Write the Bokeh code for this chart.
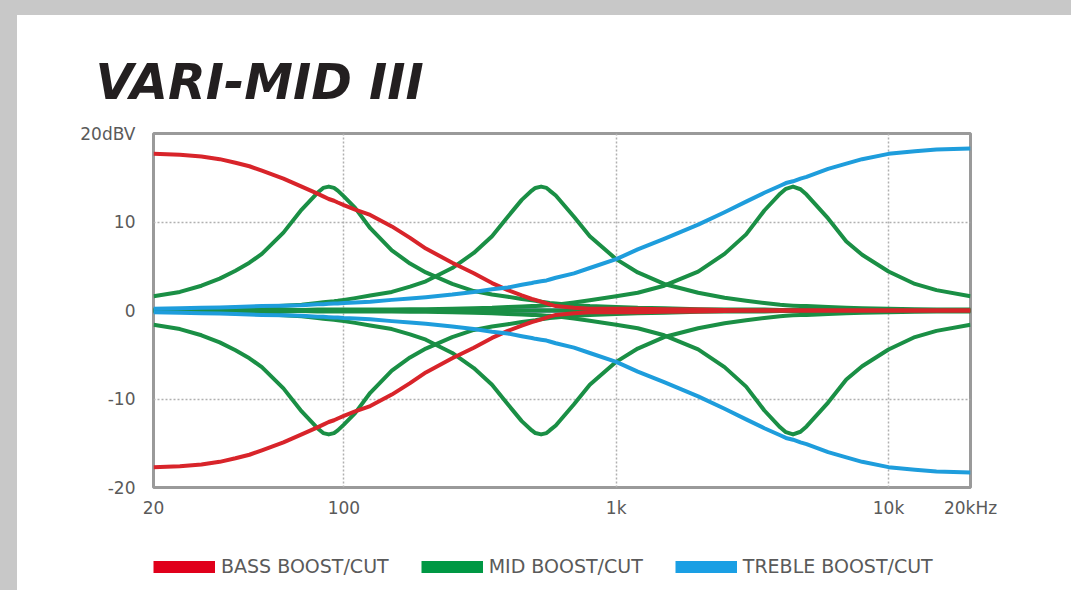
from bokeh.plotting import figure
from bokeh.layouts import column
from bokeh.models import FixedTicker, Legend, LegendItem, ColumnDataSource, Range1d
from bokeh.embed import file_html
from bokeh.resources import INLINE

# ---------------- data ----------------
FREQ = [20, 25, 30, 35, 40, 45, 50, 60, 70, 80, 84, 88, 92, 95, 100, 110, 125, 150, 175, 200,
        250, 300, 350, 400, 450, 490, 505, 530, 555, 570, 600, 700, 800, 1000, 1200, 1500, 2000,
        2500, 3000, 3500, 4000, 4200, 4460, 4750, 5000, 6000, 7000, 8000, 10000, 12500,
        15000, 20000]

BASS_BOOST = [17.7, 17.6, 17.4, 17.1, 16.7, 16.3, 15.8, 14.9, 14.0, 13.2, 12.9, 12.6, 12.4,
              12.2, 11.9, 11.4, 10.8, 9.5, 8.2, 7.0, 5.4, 4.2, 3.1, 2.3, 1.7, 1.3, 1.2, 1.0,
              0.8, 0.7, 0.5, 0.3, 0.2, 0.2, 0.2, 0.15, 0.1, 0.05, 0, 0, 0, 0, 0, 0, 0, 0, 0, 0,
              0, 0, 0, 0]
BASS_CUT = [-17.7, -17.6, -17.4, -17.1, -16.7, -16.3, -15.8, -14.9, -14.0, -13.2, -12.9, -12.6,
            -12.4, -12.2, -11.9, -11.4, -10.8, -9.5, -8.2, -7.0, -5.4, -4.2, -3.1, -2.3, -1.7,
            -1.3, -1.2, -1.0, -0.8, -0.7, -0.5, -0.3, -0.2, -0.2, -0.2, -0.15, -0.1, -0.05, 0,
            0, 0, 0, 0, 0, 0, 0, 0, 0, 0, 0, 0, 0]

MID_LOW_BOOST = [1.6, 2.1, 2.8, 3.6, 4.5, 5.4, 6.4, 8.8, 11.4, 13.3, 13.85, 14.0, 13.85, 13.55,
                 12.9, 11.6, 9.3, 6.8, 5.3, 4.3, 3.0, 2.2, 1.8, 1.55, 1.3, 1.15, 1.1, 1.0, 0.9,
                 0.85, 0.8, 0.6, 0.5, 0.4, 0.3, 0.25, 0.15, 0.1, 0.1, 0.1, 0.05, 0.05, 0.05,
                 0.05, 0.05, 0, 0, 0, 0, 0, 0, 0]
MID_LOW_CUT = [-1.6, -2.1, -2.8, -3.6, -4.5, -5.4, -6.4, -8.8, -11.4, -13.3, -13.85, -14.0,
               -13.85, -13.55, -12.9, -11.6, -9.3, -6.8, -5.3, -4.3, -3.0, -2.2, -1.8, -1.55,
               -1.3, -1.15, -1.1, -1.0, -0.9, -0.85, -0.8, -0.6, -0.5, -0.4, -0.3, -0.25,
               -0.15, -0.1, -0.1, -0.1, -0.05, -0.05, -0.05, -0.05, -0.05, 0, 0, 0, 0, 0, 0, 0]

MID_MID_BOOST = [0.1, 0.15, 0.2, 0.25, 0.3, 0.35, 0.4, 0.55, 0.65, 0.85, 0.92, 1.0, 1.05, 1.1,
                 1.2, 1.4, 1.7, 2.1, 2.7, 3.3, 4.8, 6.5, 8.4, 10.6, 12.5, 13.55, 13.85, 14.0,
                 13.85, 13.55, 13.0, 10.6, 8.4, 5.8, 4.3, 3.0, 2.0, 1.45, 1.1, 0.85, 0.65, 0.6,
                 0.55, 0.5, 0.5, 0.4, 0.3, 0.25, 0.2, 0.15, 0.1, 0.1]
MID_MID_CUT = [-0.1, -0.15, -0.2, -0.25, -0.3, -0.35, -0.4, -0.55, -0.65, -0.85, -0.92, -1.0,
               -1.05, -1.1, -1.2, -1.4, -1.7, -2.1, -2.7, -3.3, -4.8, -6.5, -8.4, -10.6, -12.5,
               -13.55, -13.85, -14.0, -13.85, -13.55, -13.0, -10.6, -8.4, -5.8, -4.3, -3.0,
               -2.0, -1.45, -1.1, -0.85, -0.65, -0.6, -0.55, -0.5, -0.5, -0.4, -0.3, -0.25,
               -0.2, -0.15, -0.1, -0.1]

MID_HIGH_BOOST = [0, 0, 0.05, 0.05, 0.05, 0.05, 0.05, 0.05, 0.05, 0.1, 0.1, 0.1, 0.1, 0.1, 0.1,
                  0.1, 0.1, 0.1, 0.15, 0.15, 0.2, 0.25, 0.3, 0.4, 0.45, 0.5, 0.5, 0.55, 0.6,
                  0.6, 0.65, 0.9, 1.15, 1.6, 2.0, 2.8, 4.4, 6.4, 8.6, 11.3, 13.2, 13.75, 14.0,
                  13.7, 13.1, 10.4, 7.8, 6.3, 4.4, 3.0, 2.3, 1.6]
MID_HIGH_CUT = [0, 0, -0.05, -0.05, -0.05, -0.05, -0.05, -0.05, -0.05, -0.1, -0.1, -0.1, -0.1,
                -0.1, -0.1, -0.1, -0.1, -0.1, -0.15, -0.15, -0.2, -0.25, -0.3, -0.4, -0.45,
                -0.5, -0.5, -0.55, -0.6, -0.6, -0.65, -0.9, -1.15, -1.6, -2.0, -2.8, -4.4,
                -6.4, -8.6, -11.3, -13.2, -13.75, -14.0, -13.7, -13.1, -10.4, -7.8, -6.3,
                -4.4, -3.0, -2.3, -1.6]

TREBLE_BOOST = [0.2, 0.25, 0.3, 0.35, 0.4, 0.45, 0.5, 0.55, 0.6, 0.7, 0.72, 0.75, 0.78, 0.8,
                0.85, 0.9, 1.0, 1.2, 1.35, 1.5, 1.8, 2.1, 2.4, 2.6, 2.9, 3.1, 3.2, 3.3, 3.4,
                3.5, 3.7, 4.2, 4.8, 5.8, 6.9, 8.1, 9.7, 11.1, 12.3, 13.3, 14.1, 14.4, 14.6,
                14.9, 15.1, 16.0, 16.6, 17.1, 17.7, 18.0, 18.2, 18.3]
TREBLE_CUT = [-0.2, -0.25, -0.3, -0.35, -0.4, -0.45, -0.5, -0.55, -0.6, -0.7, -0.72, -0.75,
              -0.78, -0.8, -0.85, -0.9, -1.0, -1.2, -1.35, -1.5, -1.8, -2.1, -2.4, -2.6, -2.9,
              -3.1, -3.2, -3.3, -3.4, -3.5, -3.7, -4.2, -4.8, -5.8, -6.9, -8.1, -9.7, -11.1,
              -12.3, -13.3, -14.1, -14.4, -14.6, -14.9, -15.1, -16.0, -16.6, -17.1, -17.7,
              -18.0, -18.2, -18.3]

FLAT_FREQ = [20, 20000]
FLAT_DB = [0, 0]

X_TICKS = [20, 100, 1000, 10000, 20000]
X_LABELS = ["20", "100", "1k", "10k", "20kHz"]
Y_TICKS = [-20, -10, 0, 10, 20]
Y_LABELS = ["-20", "-10", "0", "10", "20dBV"]

SERIES = ["BASS BOOST/CUT", "MID BOOST/CUT", "TREBLE BOOST/CUT"]

# ---------------- styling ----------------
RED, GREEN, BLUE = "#d8242a", "#1a8f45", "#1e9ddc"
SW_RED, SW_GREEN, SW_BLUE = "#e0001b", "#009844", "#1a9fe4"
FONT = "DejaVu Sans"
TXT = "#5a5a5a"

W = 1054
p = figure(width=W, height=505, x_axis_type="log", x_range=(20, 20000), y_range=(-20, 20),
           output_backend="svg", toolbar_location=None,
           min_border_left=136, min_border_right=101, min_border_top=118, min_border_bottom=33)

p.border_fill_color = "white"
p.background_fill_color = "white"
p.outline_line_color = "#9a9a9a"
p.outline_line_width = 3

# title
p.title.text = "VARI-MID III"
p.title.text_font = FONT
p.title.text_font_style = "bold italic"
p.title.text_font_size = "49px"
p.title.text_color = "#231f20"
p.title.align = "left"
p.title.offset = -58
p.title.standoff = 46

# axes
for ax in (p.xaxis[0], p.yaxis[0]):
    ax.axis_line_color = None
    ax.major_tick_line_color = None
    ax.minor_tick_line_color = None
    ax.major_label_text_font = FONT
    ax.major_label_text_font_size = "17px"
    ax.major_label_text_color = TXT

p.xaxis.ticker = FixedTicker(ticks=X_TICKS)
p.xaxis.major_label_overrides = {t: l for t, l in zip(X_TICKS, X_LABELS)}
p.xaxis.major_label_standoff = 4
p.yaxis.ticker = FixedTicker(ticks=Y_TICKS)
p.yaxis.major_label_overrides = {t: l for t, l in zip(Y_TICKS, Y_LABELS)}
p.yaxis.major_label_standoff = 12

p.xgrid.ticker = FixedTicker(ticks=[100, 1000, 10000])
p.ygrid.ticker = FixedTicker(ticks=[-10, 0, 10])
for g in (p.xgrid[0], p.ygrid[0]):
    g.grid_line_color = "#b0b0b0"
    g.grid_line_width = 1.5
    g.grid_line_dash = "2 2"

LW = 4
src = ColumnDataSource(dict(f=FREQ, bb=BASS_BOOST, bc=BASS_CUT,
                            mlb=MID_LOW_BOOST, mlc=MID_LOW_CUT,
                            mmb=MID_MID_BOOST, mmc=MID_MID_CUT,
                            mhb=MID_HIGH_BOOST, mhc=MID_HIGH_CUT,
                            tb=TREBLE_BOOST, tc=TREBLE_CUT))

p.line(FLAT_FREQ, FLAT_DB, color=RED, line_width=LW)
p.line(FLAT_FREQ, FLAT_DB, color=BLUE, line_width=LW)
for col in ("mlb", "mlc", "mmb", "mmc", "mhb", "mhc"):
    p.line("f", col, source=src, color=GREEN, line_width=LW, line_join="round")
p.line(FLAT_FREQ, FLAT_DB, color=GREEN, line_width=LW)
for col in ("bb", "bc"):
    p.line("f", col, source=src, color=RED, line_width=LW, line_join="round")
for col in ("tb", "tc"):
    p.line("f", col, source=src, color=BLUE, line_width=LW, line_join="round")

# ---------------- legend strip (separate figure below the chart) ----------------
q = figure(width=W, height=70, x_range=Range1d(0, 1), y_range=Range1d(0, 1),
           output_backend="svg", toolbar_location=None,
           min_border=0, min_border_left=0, min_border_right=0,
           min_border_top=0, min_border_bottom=0)
q.axis.visible = False
q.grid.visible = False
q.outline_line_color = None
q.border_fill_color = "white"
q.background_fill_color = "white"

# legend proxies: the boost curves again, drawn thick, all outside this strip's range
items = []
for name, col, c in zip(SERIES, ("bb", "mlb", "tb"), (SW_RED, SW_GREEN, SW_BLUE)):
    r = q.line("f", col, source=src, line_color=c, line_width=12, line_cap="butt")
    items.append(LegendItem(label=name, renderers=[r]))

legend = Legend(items=items, orientation="horizontal", location=(0, 13),
                glyph_width=62, glyph_height=13, label_standoff=6, spacing=32,
                label_text_font=FONT, label_text_font_size="19px", label_text_color=TXT,
                border_line_color=None, background_fill_alpha=0, margin=0, padding=0)
q.add_layout(legend)

sheet = column(p, q, spacing=0, styles={"background-color": "white"})
page = column(sheet, spacing=0,
              styles={"background-color": "#c8c8c8", "padding-left": "17px",
                      "padding-top": "15px"})

open("out.html", "w").write(file_html(page, INLINE))
